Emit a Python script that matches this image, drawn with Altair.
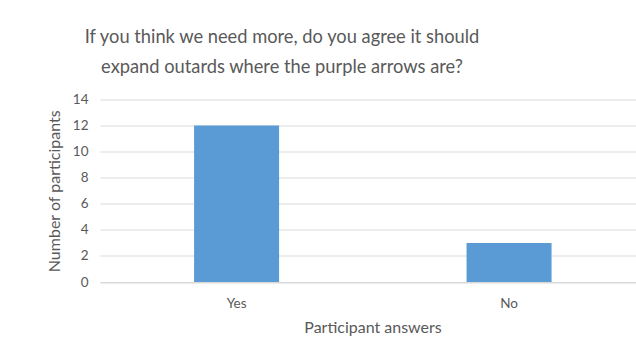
import altair as alt
import pandas as pd

categories = ["Yes", "No"]
counts = [12, 3]

title_lines = ["If you think we need more, do you agree it should",
               "expand outards where the purple arrows are?"]

df = pd.DataFrame({"answer": categories, "count": counts})

TXT = "#595959"
GRID = "#d9d9d9"
FONT = "Lato"

chart = alt.Chart(df).mark_bar(color="#5b9bd5").encode(
    x=alt.X("answer:N", sort=categories,
            scale=alt.Scale(paddingInner=0.688, paddingOuter=0.3276, align=0.527),
            axis=alt.Axis(title="Participant answers", labelAngle=0, ticks=False,
                          domainColor=GRID, labelColor=TXT, labelFontSize=13.5,
                          labelFont=FONT, labelPadding=14, titleFont=FONT,
                          titleFontSize=16, titleFontWeight="normal", titleColor=TXT,
                          titlePadding=10, titleX=272.5)),
    y=alt.Y("count:Q", scale=alt.Scale(domain=[0, 14]),
            axis=alt.Axis(title="Number of participants", values=list(range(0, 15, 2)),
                          ticks=False, domain=False, gridColor=GRID, labelColor=TXT,
                          labelFontSize=13.5, labelFont=FONT, labelPadding=12,
                          titleFont=FONT, titleFontSize=16, titleFontWeight="normal",
                          titleColor=TXT, titlePadding=10)),
).properties(
    width=536, height=182.5,
    title=alt.TitleParams(text=title_lines, font=FONT, fontSize=18.3, fontWeight="normal",
                          color=TXT, lineHeight=30, anchor="middle", dx=-86, offset=15),
    autosize=alt.AutoSizeParams(type="none"),
    padding={"left": 100, "top": 99.5, "right": 0, "bottom": 70},
    background="white",
).configure_view(stroke=None)

chart.save("out.html", embed_options={"renderer": "svg", "actions": False})
